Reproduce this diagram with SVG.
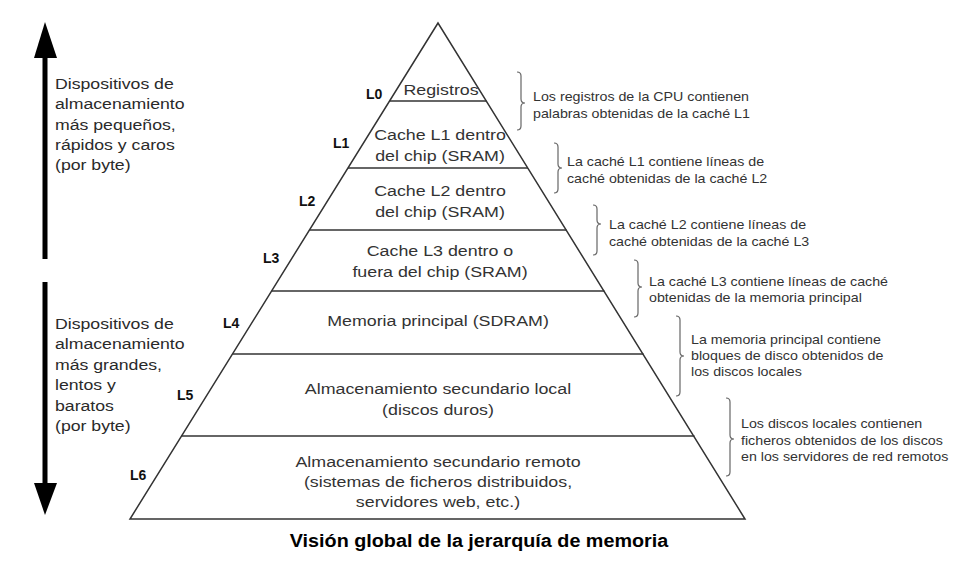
<svg xmlns="http://www.w3.org/2000/svg" width="974" height="563" viewBox="0 0 974 563">
<style>
.side{font-family:"Liberation Sans",Arial,sans-serif;font-size:15.5px;fill:#2a2a2a}
.lvl{font-family:"Liberation Sans",Arial,sans-serif;font-size:14px;font-weight:bold;fill:#111}
.in{font-family:"Liberation Sans",Arial,sans-serif;font-size:15.5px;fill:#333;text-anchor:middle}
.note{font-family:"Liberation Sans",Arial,sans-serif;font-size:12.5px;fill:#333}
.edge{stroke:#333;stroke-width:1.5;fill:none}
.brace{stroke:#666;stroke-width:1.2;fill:none}
.cap{font-family:"Liberation Sans",Arial,sans-serif;font-size:17.5px;font-weight:bold;fill:#000;text-anchor:middle}
</style>
<rect width="974" height="563" fill="#fff"/>

<g id="arrows">
  <rect x="42.5" y="52" width="5" height="207" fill="#000"/>
  <polygon points="45,22 34,58 57,58" fill="#000"/>
  <rect x="42.5" y="282" width="5" height="205" fill="#000"/>
  <polygon points="45,515 34,483 57,483" fill="#000"/>
</g>

<g id="side-top" transform="translate(55 0) scale(1.14 1)">
  <text class="side" x="0" y="89">Dispositivos de</text>
  <text class="side" x="0" y="109">almacenamiento</text>
  <text class="side" x="0" y="130">más pequeños,</text>
  <text class="side" x="0" y="150">rápidos y caros</text>
  <text class="side" x="0" y="170">(por byte)</text>
</g>
<g id="side-bottom" transform="translate(55 0) scale(1.14 1)">
  <text class="side" x="0" y="329">Dispositivos de</text>
  <text class="side" x="0" y="349">almacenamiento</text>
  <text class="side" x="0" y="370">más grandes,</text>
  <text class="side" x="0" y="390">lentos y</text>
  <text class="side" x="0" y="411">baratos</text>
  <text class="side" x="0" y="431">(por byte)</text>
</g>

<g id="pyramid">
  <polygon class="edge" points="438,23 130,519 745,519"/>
  <line class="edge" x1="389.6" y1="101" x2="486.4" y2="101"/>
  <line class="edge" x1="348" y1="168" x2="528" y2="168"/>
  <line class="edge" x1="309.5" y1="230" x2="566.5" y2="230"/>
  <line class="edge" x1="271.6" y1="291" x2="604.4" y2="291"/>
  <line class="edge" x1="232.5" y1="354" x2="643.5" y2="354"/>
  <line class="edge" x1="181.5" y1="436" x2="694.5" y2="436"/>
</g>

<g id="L0"><text class="lvl" x="366" y="99">L0</text><g transform="translate(441 0) scale(1.15 1)"><text class="in" x="0" y="95">Registros</text></g></g>
<g id="L1"><text class="lvl" x="333" y="148">L1</text><g transform="translate(440 0) scale(1.15 1)"><text class="in" x="0" y="140">Cache L1 dentro</text><text class="in" x="0" y="161">del chip (SRAM)</text></g></g>
<g id="L2"><text class="lvl" x="299" y="206">L2</text><g transform="translate(440 0) scale(1.15 1)"><text class="in" x="0" y="196">Cache L2 dentro</text><text class="in" x="0" y="217">del chip (SRAM)</text></g></g>
<g id="L3"><text class="lvl" x="263" y="263">L3</text><g transform="translate(440 0) scale(1.15 1)"><text class="in" x="0" y="256">Cache L3 dentro o</text><text class="in" x="0" y="277">fuera del chip (SRAM)</text></g></g>
<g id="L4"><text class="lvl" x="223" y="328">L4</text><g transform="translate(438 0) scale(1.15 1)"><text class="in" x="0" y="326">Memoria principal (SDRAM)</text></g></g>
<g id="L5"><text class="lvl" x="177" y="400">L5</text><g transform="translate(438 0) scale(1.15 1)"><text class="in" x="0" y="394">Almacenamiento secundario local</text><text class="in" x="0" y="415">(discos duros)</text></g></g>
<g id="L6"><text class="lvl" x="130" y="480">L6</text><g transform="translate(438 0) scale(1.15 1)"><text class="in" x="0" y="467">Almacenamiento secundario remoto</text><text class="in" x="0" y="487">(sistemas de ficheros distribuidos,</text><text class="in" x="0" y="507">servidores web, etc.)</text></g></g>

<g id="braces">
  <path class="brace" d="M517 72 Q521 72 521 76 L521 99 Q521 103 525 103 Q521 103 521 107 L521 126 Q521 130 517 130"/>
  <path class="brace" d="M554 143 Q558 143 558 147 L558 164 Q558 168 562 168 Q558 168 558 172 L558 189 Q558 193 554 193"/>
  <path class="brace" d="M593 205 Q597 205 597 209 L597 220 Q597 224 601 224 Q597 224 597 228 L597 251 Q597 255 593 255"/>
  <path class="brace" d="M634 260 Q638 260 638 264 L638 283 Q638 287 642 287 Q638 287 638 291 L638 313 Q638 317 634 317"/>
  <path class="brace" d="M676 316 Q680 316 680 320 L680 352 Q680 356 684 356 Q680 356 680 360 L680 392 Q680 396 676 396"/>
  <path class="brace" d="M726 398 Q730 398 730 402 L730 435 Q730 439 734 439 Q730 439 730 443 L730 472 Q730 476 726 476"/>
</g>

<g id="notes">
  <g transform="translate(533 0) scale(1.14 1)">
    <text class="note" x="0" y="101">Los registros de la CPU contienen</text>
    <text class="note" x="0" y="118">palabras obtenidas de la caché L1</text>
  </g>
  <g transform="translate(567 0) scale(1.14 1)">
    <text class="note" x="0" y="166">La caché L1 contiene líneas de</text>
    <text class="note" x="0" y="183">caché obtenidas de la caché L2</text>
  </g>
  <g transform="translate(609 0) scale(1.14 1)">
    <text class="note" x="0" y="229">La caché L2 contiene líneas de</text>
    <text class="note" x="0" y="246">caché obtenidas de la caché L3</text>
  </g>
  <g transform="translate(649 0) scale(1.14 1)">
    <text class="note" x="0" y="286">La caché L3 contiene líneas de caché</text>
    <text class="note" x="0" y="302">obtenidas de la memoria principal</text>
  </g>
  <g transform="translate(691 0) scale(1.14 1)">
    <text class="note" x="0" y="344">La memoria principal contiene</text>
    <text class="note" x="0" y="360">bloques de disco obtenidos de</text>
    <text class="note" x="0" y="376">los discos locales</text>
  </g>
  <g transform="translate(741 0) scale(1.14 1)">
    <text class="note" x="0" y="428">Los discos locales contienen</text>
    <text class="note" x="0" y="445">ficheros obtenidos de los discos</text>
    <text class="note" x="0" y="461">en los servidores de red remotos</text>
  </g>
</g>

<g transform="translate(479 0) scale(1.13 1)"><text class="cap" x="0" y="547">Visión global de la jerarquía de memoria</text></g>
</svg>
